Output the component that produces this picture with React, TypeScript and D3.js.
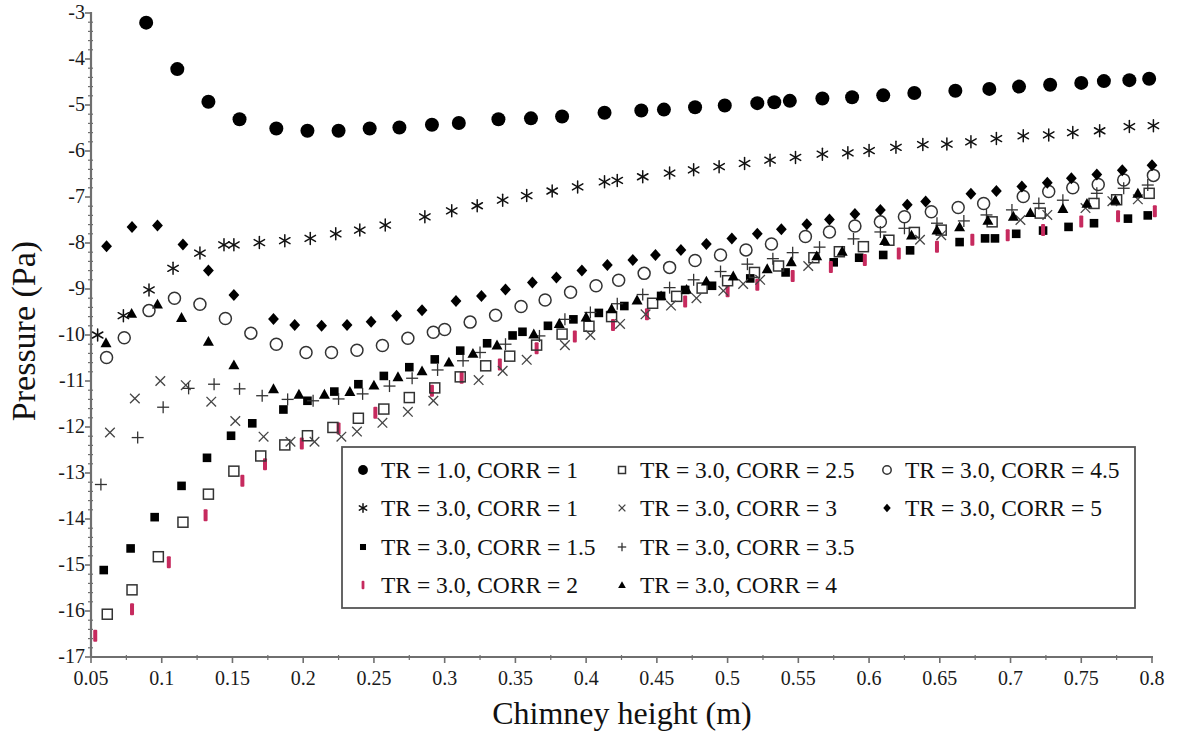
import React from "react";
import * as d3 from "d3";

// Pressure versus chimney height for several TR / CORR combinations
type Pt = [number, number];

const X_TICKS = [0.05, 0.1, 0.15, 0.2, 0.25, 0.3, 0.35, 0.4, 0.45, 0.5, 0.55, 0.6, 0.65, 0.7, 0.75, 0.8];
const X_TICK_LABELS = ["0.05", "0.1", "0.15", "0.2", "0.25", "0.3", "0.35", "0.4", "0.45", "0.5", "0.55", "0.6", "0.65", "0.7", "0.75", "0.8"];
const Y_TICKS = [-17, -16, -15, -14, -13, -12, -11, -10, -9, -8, -7, -6, -5, -4, -3];
const Y_TICK_LABELS = ["-17", "-16", "-15", "-14", "-13", "-12", "-11", "-10", "-9", "-8", "-7", "-6", "-5", "-4", "-3"];

const tr1corr1: Pt[] = [[0.089,-3.21],[0.111,-4.22],[0.133,-4.93],[0.155,-5.31],[0.181,-5.51],[0.203,-5.56],[0.225,-5.56],[0.247,-5.51],[0.268,-5.49],[0.291,-5.43],[0.310,-5.39],[0.338,-5.31],[0.361,-5.29],[0.383,-5.25],[0.413,-5.17],[0.439,-5.12],[0.455,-5.10],[0.477,-5.05],[0.498,-5.01],[0.521,-4.96],[0.533,-4.94],[0.544,-4.91],[0.567,-4.86],[0.588,-4.83],[0.610,-4.79],[0.632,-4.74],[0.661,-4.69],[0.685,-4.65],[0.706,-4.60],[0.728,-4.56],[0.750,-4.52],[0.766,-4.48],[0.784,-4.46],[0.798,-4.43]];

const tr3corr1: Pt[] = [[0.0547,-10.0],[0.0729,-9.58],[0.091,-9.02],[0.108,-8.55],[0.127,-8.22],[0.144,-8.04],[0.151,-8.04],[0.169,-7.99],[0.187,-7.95],[0.205,-7.90],[0.223,-7.80],[0.240,-7.72],[0.258,-7.61],[0.286,-7.43],[0.305,-7.30],[0.323,-7.19],[0.341,-7.07],[0.358,-6.97],[0.376,-6.87],[0.394,-6.78],[0.413,-6.67],[0.422,-6.64],[0.440,-6.56],[0.459,-6.48],[0.476,-6.41],[0.494,-6.34],[0.512,-6.27],[0.530,-6.20],[0.548,-6.14],[0.567,-6.07],[0.585,-6.04],[0.600,-5.99],[0.619,-5.92],[0.638,-5.86],[0.655,-5.85],[0.672,-5.80],[0.690,-5.73],[0.709,-5.67],[0.727,-5.65],[0.744,-5.60],[0.763,-5.56],[0.784,-5.47],[0.801,-5.45]];

const tr3corr15: Pt[] = [[0.059,-15.11],[0.078,-14.64],[0.095,-13.96],[0.114,-13.28],[0.132,-12.67],[0.149,-12.19],[0.164,-11.92],[0.186,-11.62],[0.203,-11.43],[0.222,-11.23],[0.239,-11.07],[0.257,-10.89],[0.275,-10.70],[0.293,-10.53],[0.311,-10.34],[0.330,-10.18],[0.348,-10.01],[0.355,-9.93],[0.373,-9.80],[0.391,-9.66],[0.409,-9.52],[0.427,-9.37],[0.453,-9.15],[0.470,-9.02],[0.489,-8.93],[0.516,-8.77],[0.541,-8.64],[0.575,-8.42],[0.593,-8.32],[0.610,-8.26],[0.629,-8.16],[0.664,-7.98],[0.682,-7.90],[0.689,-7.90],[0.704,-7.80],[0.723,-7.73],[0.741,-7.65],[0.759,-7.57],[0.783,-7.47],[0.797,-7.40]];

const tr3corr2: Pt[] = [[0.053,-16.54],[0.079,-15.96],[0.105,-14.94],[0.131,-13.92],[0.157,-13.17],[0.173,-12.81],[0.199,-12.36],[0.225,-12.03],[0.251,-11.69],[0.291,-11.21],[0.312,-10.93],[0.339,-10.64],[0.365,-10.29],[0.392,-10.03],[0.419,-9.78],[0.443,-9.55],[0.470,-9.27],[0.500,-9.05],[0.521,-8.91],[0.546,-8.72],[0.573,-8.52],[0.597,-8.37],[0.621,-8.23],[0.648,-8.08],[0.673,-7.93],[0.698,-7.83],[0.723,-7.72],[0.750,-7.53],[0.776,-7.42],[0.802,-7.31]];

const tr3corr25: Pt[] = [[0.0615,-16.07],[0.079,-15.54],[0.0976,-14.82],[0.115,-14.07],[0.133,-13.46],[0.151,-12.96],[0.170,-12.63],[0.187,-12.39],[0.203,-12.19],[0.221,-12.01],[0.239,-11.81],[0.257,-11.61],[0.275,-11.36],[0.293,-11.15],[0.311,-10.91],[0.329,-10.67],[0.346,-10.46],[0.365,-10.22],[0.383,-9.98],[0.402,-9.81],[0.418,-9.60],[0.447,-9.31],[0.464,-9.16],[0.482,-8.98],[0.500,-8.82],[0.519,-8.64],[0.536,-8.50],[0.561,-8.32],[0.579,-8.19],[0.596,-8.08],[0.614,-7.94],[0.632,-7.77],[0.651,-7.72],[0.687,-7.54],[0.721,-7.35],[0.759,-7.14],[0.775,-7.06],[0.798,-6.92]];

const tr3corr3: Pt[] = [[0.0634,-12.12],[0.081,-11.38],[0.099,-11.0],[0.117,-11.09],[0.135,-11.45],[0.152,-11.87],[0.172,-12.21],[0.191,-12.32],[0.208,-12.32],[0.227,-12.21],[0.238,-12.10],[0.256,-11.91],[0.274,-11.67],[0.292,-11.43],[0.324,-10.98],[0.341,-10.78],[0.358,-10.54],[0.385,-10.22],[0.403,-10.0],[0.424,-9.76],[0.442,-9.55],[0.460,-9.36],[0.478,-9.20],[0.497,-9.04],[0.511,-8.89],[0.523,-8.80],[0.557,-8.50],[0.636,-7.93],[0.651,-7.83],[0.707,-7.50],[0.726,-7.39],[0.753,-7.24],[0.772,-7.09],[0.790,-7.05]];

const tr3corr35: Pt[] = [[0.057,-13.25],[0.083,-12.23],[0.101,-11.57],[0.119,-11.16],[0.137,-11.07],[0.155,-11.17],[0.171,-11.32],[0.189,-11.40],[0.207,-11.43],[0.225,-11.39],[0.242,-11.28],[0.261,-11.11],[0.277,-10.94],[0.295,-10.76],[0.313,-10.56],[0.325,-10.38],[0.343,-10.20],[0.367,-10.02],[0.385,-9.66],[0.403,-9.51],[0.422,-9.32],[0.440,-9.12],[0.459,-8.97],[0.476,-8.80],[0.495,-8.62],[0.514,-8.46],[0.532,-8.34],[0.546,-8.21],[0.565,-8.09],[0.589,-7.91],[0.608,-7.76],[0.625,-7.68],[0.648,-7.57],[0.667,-7.52],[0.683,-7.39],[0.701,-7.28],[0.720,-7.14],[0.737,-7.07],[0.761,-6.92],[0.780,-6.81],[0.797,-6.74]];

const tr3corr4: Pt[] = [[0.0606,-10.17],[0.0787,-9.53],[0.097,-9.33],[0.114,-9.62],[0.133,-10.14],[0.151,-10.65],[0.179,-11.17],[0.197,-11.29],[0.215,-11.29],[0.233,-11.23],[0.250,-11.09],[0.267,-10.91],[0.284,-10.78],[0.303,-10.59],[0.320,-10.40],[0.337,-10.22],[0.363,-9.98],[0.381,-9.75],[0.400,-9.61],[0.418,-9.43],[0.436,-9.24],[0.453,-9.15],[0.471,-9.01],[0.485,-8.83],[0.504,-8.72],[0.528,-8.56],[0.545,-8.41],[0.563,-8.28],[0.581,-8.18],[0.611,-7.95],[0.630,-7.83],[0.648,-7.72],[0.664,-7.65],[0.684,-7.51],[0.702,-7.42],[0.714,-7.34],[0.737,-7.25],[0.754,-7.14],[0.774,-7.07],[0.790,-6.92]];

const tr3corr45: Pt[] = [[0.061,-10.49],[0.0735,-10.06],[0.091,-9.47],[0.109,-9.20],[0.127,-9.33],[0.145,-9.64],[0.163,-9.96],[0.181,-10.20],[0.202,-10.38],[0.220,-10.38],[0.238,-10.33],[0.256,-10.23],[0.274,-10.07],[0.292,-9.94],[0.300,-9.88],[0.318,-9.72],[0.336,-9.57],[0.354,-9.38],[0.371,-9.24],[0.389,-9.07],[0.407,-8.93],[0.423,-8.81],[0.441,-8.66],[0.459,-8.53],[0.477,-8.38],[0.495,-8.26],[0.513,-8.15],[0.531,-8.02],[0.555,-7.86],[0.572,-7.76],[0.590,-7.63],[0.608,-7.54],[0.625,-7.43],[0.644,-7.32],[0.663,-7.23],[0.681,-7.14],[0.709,-6.99],[0.727,-6.88],[0.744,-6.80],[0.762,-6.73],[0.780,-6.63],[0.801,-6.53]];

const tr3corr5: Pt[] = [[0.061,-8.07],[0.079,-7.65],[0.097,-7.62],[0.115,-8.03],[0.133,-8.60],[0.151,-9.13],[0.179,-9.65],[0.194,-9.78],[0.213,-9.80],[0.231,-9.78],[0.248,-9.71],[0.266,-9.58],[0.284,-9.46],[0.308,-9.26],[0.326,-9.15],[0.343,-9.01],[0.362,-8.86],[0.379,-8.75],[0.397,-8.60],[0.415,-8.48],[0.433,-8.37],[0.449,-8.26],[0.467,-8.15],[0.485,-8.02],[0.503,-7.90],[0.521,-7.80],[0.538,-7.70],[0.556,-7.59],[0.572,-7.49],[0.590,-7.37],[0.608,-7.28],[0.627,-7.17],[0.640,-7.10],[0.672,-6.93],[0.690,-6.87],[0.708,-6.77],[0.726,-6.69],[0.743,-6.59],[0.761,-6.51],[0.779,-6.42],[0.800,-6.31]];

type MarkerKind = "dot" | "star" | "sq" | "bar" | "osq" | "cross" | "plus" | "tri" | "ocirc" | "diam";

const SERIES: { label: string; kind: MarkerKind; data: Pt[] }[] = [
  { label: "TR = 1.0, CORR = 1", kind: "dot", data: tr1corr1 },
  { label: "TR = 3.0, CORR = 1", kind: "star", data: tr3corr1 },
  { label: "TR = 3.0, CORR = 1.5", kind: "sq", data: tr3corr15 },
  { label: "TR = 3.0, CORR = 2", kind: "bar", data: tr3corr2 },
  { label: "TR = 3.0, CORR = 2.5", kind: "osq", data: tr3corr25 },
  { label: "TR = 3.0, CORR = 3", kind: "cross", data: tr3corr3 },
  { label: "TR = 3.0, CORR = 3.5", kind: "plus", data: tr3corr35 },
  { label: "TR = 3.0, CORR = 4", kind: "tri", data: tr3corr4 },
  { label: "TR = 3.0, CORR = 4.5", kind: "ocirc", data: tr3corr45 },
  { label: "TR = 3.0, CORR = 5", kind: "diam", data: tr3corr5 },
];

const W = 1177;
const H = 735;
const FONT = "'Liberation Serif', 'Times New Roman', Times, serif";
const AXIS = "#6f6f6f";
const RED = "#c62a5e";

const x = d3.scaleLinear().domain([0.05, 0.8]).range([91, 1152]);
const y = d3.scaleLinear().domain([-17, -3]).range([657, 13]);

function Marker({ kind, cx, cy, s = 1 }: { kind: MarkerKind; cx: number; cy: number; s?: number }) {
  switch (kind) {
    case "dot":
      return <circle cx={cx} cy={cy} r={7 * s} fill="#000" />;
    case "star": {
      const r = 6 * s;
      return (
        <g stroke="#111" strokeWidth={1.5} strokeLinecap="round">
          {[90, 30, 150].map((a) => {
            const rad = (a * Math.PI) / 180;
            const dx = r * Math.cos(rad);
            const dy = r * Math.sin(rad);
            return <line key={a} x1={cx - dx} y1={cy - dy} x2={cx + dx} y2={cy + dy} />;
          })}
        </g>
      );
    }
    case "sq": {
      const h = 4.3 * s;
      return <rect x={cx - h} y={cy - h} width={2 * h} height={2 * h} fill="#000" />;
    }
    case "bar":
      return <rect x={cx - 2 * s} y={cy - 6 * s} width={4 * s} height={12 * s} rx={1} fill={RED} />;
    case "osq": {
      const h = 5 * s;
      return <rect x={cx - h} y={cy - h} width={2 * h} height={2 * h} fill="none" stroke="#333" strokeWidth={1.5} />;
    }
    case "cross": {
      const h = 4.8 * s;
      return (
        <g stroke="#444" strokeWidth={1.3}>
          <line x1={cx - h} y1={cy - h} x2={cx + h} y2={cy + h} />
          <line x1={cx - h} y1={cy + h} x2={cx + h} y2={cy - h} />
        </g>
      );
    }
    case "plus": {
      const h = 6 * s;
      return (
        <g stroke="#333" strokeWidth={1.3}>
          <line x1={cx - h} y1={cy} x2={cx + h} y2={cy} />
          <line x1={cx} y1={cy - h} x2={cx} y2={cy + h} />
        </g>
      );
    }
    case "tri": {
      const h = 5.5 * s;
      return <path d={`M${cx},${cy - h}L${cx + h},${cy + h * 0.8}L${cx - h},${cy + h * 0.8}Z`} fill="#000" />;
    }
    case "ocirc":
      return <circle cx={cx} cy={cy} r={6 * s} fill="none" stroke="#333" strokeWidth={1.5} />;
    case "diam": {
      const h = 6 * s;
      return <path d={`M${cx},${cy - h}L${cx + h * 0.9},${cy}L${cx},${cy + h}L${cx - h * 0.9},${cy}Z`} fill="#000" />;
    }
  }
  return null;
}

export default function App() {
  const minorY = d3.range(-17, -3.0001, 0.2).filter((v) => Math.abs(v - Math.round(v)) > 1e-6);
  const minorX = X_TICKS.slice(0, -1).map((v, i) => (v + X_TICKS[i + 1]) / 2);

  // legend layout: column-major, four rows
  const legendCols = [363, 622, 887];
  const legendRows = [470, 508, 547, 585];

  return (
    <svg
      width={W}
      height={H}
      style={{ position: "absolute", left: 0, top: 0, background: "#fff" }}
      fontFamily={FONT}
    >
      {/* axes */}
      <g>
        <line x1={x(0.05)} y1={y(-3) - 1} x2={x(0.05)} y2={y(-17)} stroke={AXIS} strokeWidth={2.2} />
        <line x1={x(0.05)} y1={y(-17)} x2={x(0.8) + 1} y2={y(-17)} stroke={AXIS} strokeWidth={2.2} />
        {Y_TICKS.map((v, i) => (
          <g key={`yt${v}`}>
            <line x1={x(0.05) - 6} y1={y(v)} x2={x(0.05)} y2={y(v)} stroke={AXIS} strokeWidth={1.6} />
            <text x={85} y={y(v) + 6} textAnchor="end" fontSize={20} fill="#1a1a1a">
              {Y_TICK_LABELS[i]}
            </text>
          </g>
        ))}
        {minorY.map((v) => (
          <line key={`ym${v.toFixed(1)}`} x1={x(0.05) - 3} y1={y(v)} x2={x(0.05) + 2} y2={y(v)} stroke={AXIS} strokeWidth={1.2} />
        ))}
        {X_TICKS.map((v, i) => (
          <g key={`xt${v}`}>
            <line x1={x(v)} y1={y(-17)} x2={x(v)} y2={y(-17) + 6} stroke={AXIS} strokeWidth={1.6} />
            <text x={x(v)} y={685} textAnchor="middle" fontSize={20} fill="#1a1a1a">
              {X_TICK_LABELS[i]}
            </text>
          </g>
        ))}
        {minorX.map((v) => (
          <line key={`xm${v}`} x1={x(v)} y1={y(-17) - 2} x2={x(v)} y2={y(-17) + 3} stroke={AXIS} strokeWidth={1.2} />
        ))}
      </g>

      {/* axis titles */}
      <text x={622} y={724} textAnchor="middle" fontSize={32} fill="#111">
        Chimney height (m)
      </text>
      <text transform="translate(35,331) rotate(-90)" textAnchor="middle" fontSize={34} fill="#111">
        Pressure (Pa)
      </text>

      {/* data */}
      {SERIES.map((s) => (
        <g key={s.label}>
          {s.data.map(([vx, vy], j) => (
            <Marker key={j} kind={s.kind} cx={x(vx)} cy={y(vy)} />
          ))}
        </g>
      ))}

      {/* legend */}
      <rect x={342} y={447} width={793} height={161} fill="#fff" stroke="#555" strokeWidth={1.8} />
      {SERIES.map((s, i) => {
        const col = Math.floor(i / 4);
        const row = i % 4;
        const mx = legendCols[col];
        const my = legendRows[row];
        return (
          <g key={`lg${i}`}>
            <Marker kind={s.kind} cx={mx} cy={my} s={0.7} />
            <text x={mx + 18} y={my} dy="0.35em" fontSize={23.5} fill="#111">
              {s.label}
            </text>
          </g>
        );
      })}
    </svg>
  );
}
